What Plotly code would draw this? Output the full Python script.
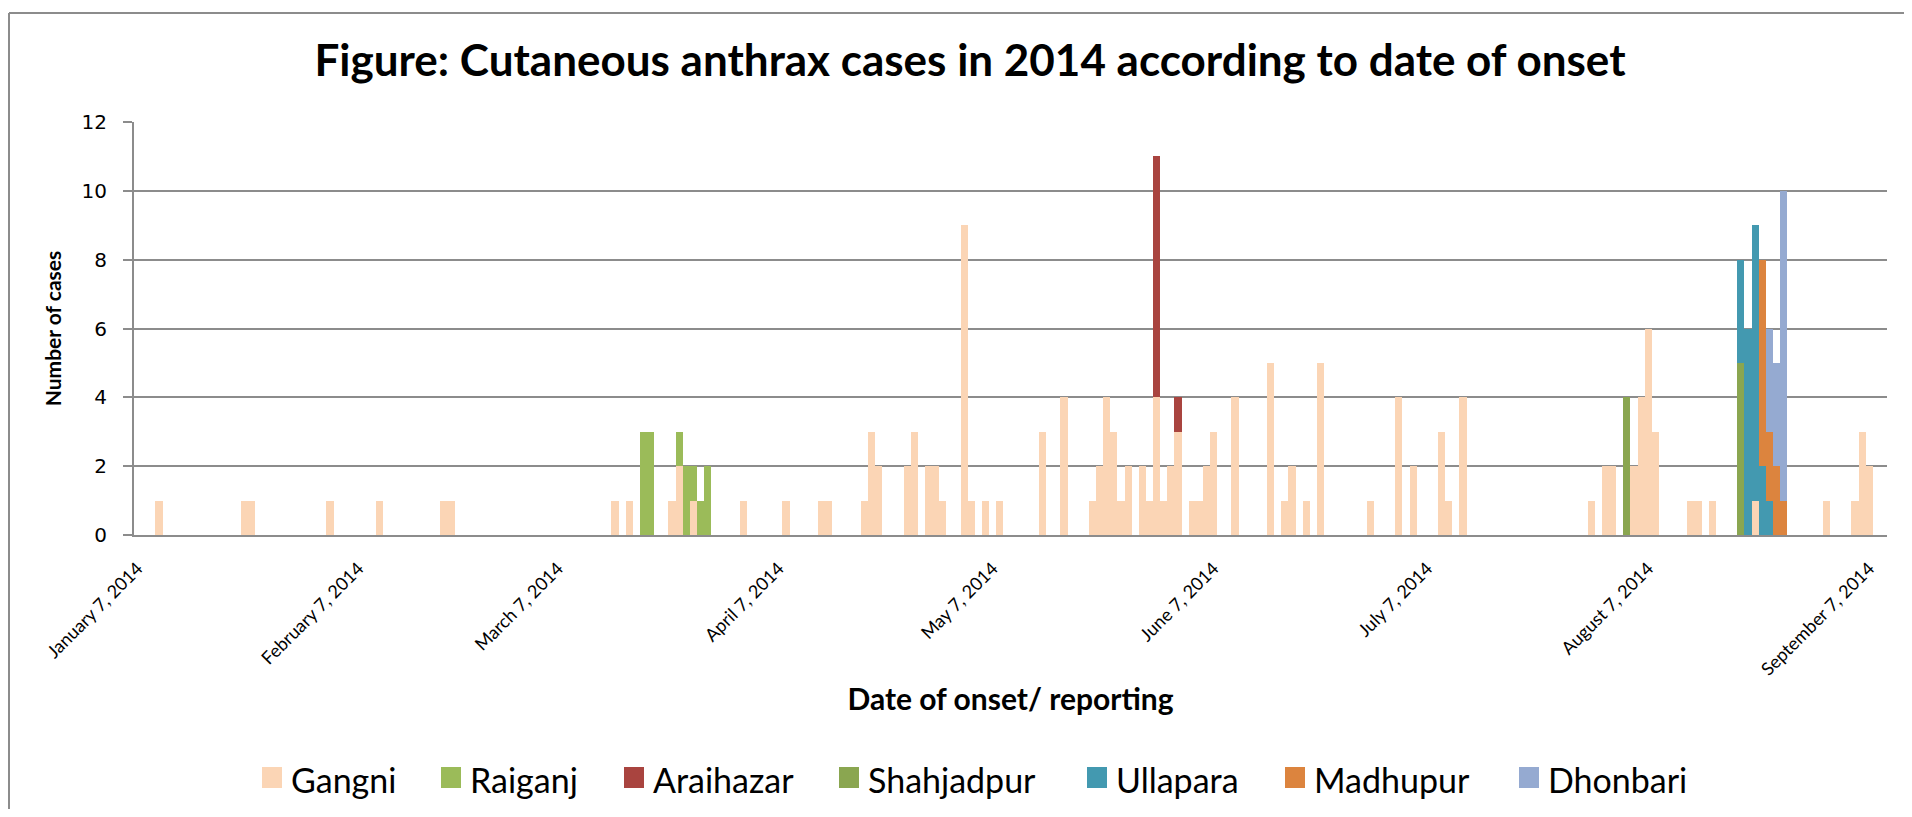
import plotly.graph_objects as go

# ---- data (daily case counts by date of onset) ----
gangni_dates = ["2014-01-10", "2014-01-22", "2014-01-23", "2014-02-03", "2014-02-10", "2014-02-19", "2014-02-20",
                "2014-03-15", "2014-03-17", "2014-03-23", "2014-03-24", "2014-03-26", "2014-04-02", "2014-04-08",
                "2014-04-13", "2014-04-14", "2014-04-19", "2014-04-20", "2014-04-21", "2014-04-25", "2014-04-26",
                "2014-04-28", "2014-04-29", "2014-04-30", "2014-05-03", "2014-05-04", "2014-05-06", "2014-05-08",
                "2014-05-14", "2014-05-17", "2014-05-21", "2014-05-22", "2014-05-23", "2014-05-24", "2014-05-25",
                "2014-05-26", "2014-05-28", "2014-05-29", "2014-05-30", "2014-05-31", "2014-06-01", "2014-06-02",
                "2014-06-04", "2014-06-05", "2014-06-06", "2014-06-07", "2014-06-10", "2014-06-15", "2014-06-17",
                "2014-06-18", "2014-06-20", "2014-06-22", "2014-06-29", "2014-07-03", "2014-07-05", "2014-07-09",
                "2014-07-10", "2014-07-12", "2014-07-30", "2014-08-01", "2014-08-02", "2014-08-05", "2014-08-06",
                "2014-08-07", "2014-08-08", "2014-08-13", "2014-08-14", "2014-08-16", "2014-08-22", "2014-09-01",
                "2014-09-05", "2014-09-06", "2014-09-07"]
gangni_cases = [1, 1, 1, 1, 1, 1, 1,
                1, 1, 1, 2, 1, 1, 1,
                1, 1, 1, 3, 2, 2, 3,
                2, 2, 1, 9, 1, 1, 1,
                3, 4, 1, 2, 4, 3, 1,
                2, 2, 1, 4, 1, 2, 3,
                1, 1, 2, 3, 4, 5, 1,
                2, 1, 5, 1, 4, 2, 3,
                1, 4, 1, 2, 2, 2, 4,
                6, 3, 1, 1, 1, 1, 1,
                1, 3, 2]

raiganj_dates = ["2014-03-19", "2014-03-20", "2014-03-24", "2014-03-25", "2014-03-26", "2014-03-27", "2014-03-28"]
raiganj_cases = [3, 3, 1, 2, 1, 1, 2]

araihazar_dates = ["2014-05-30", "2014-06-02"]
araihazar_cases = [7, 1]

shahjadpur_dates = ["2014-08-04", "2014-08-20"]
shahjadpur_cases = [4, 5]

ullapara_dates = ["2014-08-20", "2014-08-21", "2014-08-22", "2014-08-23", "2014-08-24"]
ullapara_cases = [3, 6, 8, 2, 1]

madhupur_dates = ["2014-08-23", "2014-08-24", "2014-08-25", "2014-08-26"]
madhupur_cases = [6, 2, 2, 1]

dhonbari_dates = ["2014-08-24", "2014-08-25", "2014-08-26"]
dhonbari_cases = [3, 3, 9]

tick_dates = ["2014-01-07", "2014-02-07", "2014-03-07", "2014-04-07", "2014-05-07",
              "2014-06-07", "2014-07-07", "2014-08-07", "2014-09-07"]
tick_labels = ["January 7, 2014", "February 7, 2014", "March 7, 2014", "April 7, 2014", "May 7, 2014",
               "June 7, 2014", "July 7, 2014", "August 7, 2014", "September 7, 2014"]

series = [
    ("Gangni", gangni_dates, gangni_cases, "#FBD5B5"),
    ("Raiganj", raiganj_dates, raiganj_cases, "#9BBB59"),
    ("Araihazar", araihazar_dates, araihazar_cases, "#A9443F"),
    ("Shahjadpur", shahjadpur_dates, shahjadpur_cases, "#8AA650"),
    ("Ullapara", ullapara_dates, ullapara_cases, "#4399B0"),
    ("Madhupur", madhupur_dates, madhupur_cases, "#DC843E"),
    ("Dhonbari", dhonbari_dates, dhonbari_cases, "#95AAD1"),
]

# legend entry positions (page pixels): swatch left edge
legend_x = [262, 441, 624, 839, 1087, 1285, 1519]

fig = go.Figure()
for name, d, v, c in series:
    fig.add_trace(go.Bar(x=d, y=v, name=name, showlegend=False,
                         marker=dict(color=c, line=dict(width=0))))

# page has an 8px body margin; figure is sized to fit inside it
OFF = 8
W, H = 1912 - 2 * OFF, 817 - 2 * OFF
PX0, PX1, PY0, PY1 = 134, 1887, 122, 535   # plot area in page pixels
L, R = PX0 - OFF, W - (PX1 - OFF)
T, B = PY0 - OFF, H - (PY1 - OFF)
pw, ph = PX1 - PX0, PY1 - PY0

def xp(x):
    return (x - PX0) / pw

def yp(y):
    return (PY1 - y) / ph

grid = "#8c8c8c"
shapes = [
    dict(type="line", xref="paper", yref="paper", x0=xp(9), x1=xp(9), y0=yp(13), y1=yp(830),
         line=dict(color=grid, width=2)),
    dict(type="line", xref="paper", yref="paper", x0=xp(9), x1=xp(1912), y0=yp(13), y1=yp(13),
         line=dict(color=grid, width=2)),
]
annotations = [
    dict(text="<b>IEDCR</b>", xref="paper", yref="paper", x=xp(1833), y=yp(9), xanchor="center",
         yanchor="bottom", showarrow=False, font=dict(family="Lato", size=28, color="#1E8C3A")),
]
for (name, d, v, c), lx in zip(series, legend_x):
    shapes.append(dict(type="rect", xref="paper", yref="paper", x0=xp(lx), x1=xp(lx + 20),
                       y0=yp(788), y1=yp(767), fillcolor=c, line=dict(width=0)))
    annotations.append(dict(text=name, xref="paper", yref="paper", x=xp(lx + 27), y=yp(779),
                            xanchor="left", yanchor="middle", showarrow=False,
                            font=dict(family="Lato", size=34, color="black")))

fig.update_layout(
    width=W, height=H,
    margin=dict(l=L, r=R, t=T, b=B, autoexpand=False),
    paper_bgcolor="white", plot_bgcolor="white",
    barmode="stack", bargap=0, showlegend=False,
    title=dict(text="<b>Figure: Cutaneous anthrax cases in 2014 according to date of onset</b>",
               x=(970 - OFF) / W, xanchor="center", y=1 - (61 - OFF) / H, yanchor="middle",
               font=dict(family="Lato", size=44, color="black")),
    font=dict(family="Lato", color="black"),
    xaxis=dict(type="date", range=["2014-01-06 12:00", "2014-09-09 12:00"],
               tickvals=tick_dates, ticktext=tick_labels, tickangle=-45,
               tickfont=dict(family="Lato", size=18, color="black"),
               showgrid=False, showline=True, linecolor=grid, linewidth=2,
               ticks="", ticklabelstandoff=14,
               title=dict(text="<b>Date of onset/ reporting</b>", standoff=10,
                          font=dict(family="Lato", size=30, color="black"))),
    yaxis=dict(range=[0, 12], tickvals=[0, 2, 4, 6, 8, 10, 12],
               showgrid=True, gridcolor=grid, gridwidth=1.5,
               showline=True, linecolor=grid, linewidth=2,
               ticks="outside", ticklen=9, tickcolor=grid, tickwidth=1.5,
               tickfont=dict(family="DejaVu Sans", size=20, color="black"),
               ticklabelstandoff=12, zeroline=False,
               title=dict(text="<b>Number of cases</b>", standoff=14,
                          font=dict(family="Lato", size=21, color="black"))),
    shapes=shapes,
    annotations=annotations,
)

fig.write_html("out.html")
